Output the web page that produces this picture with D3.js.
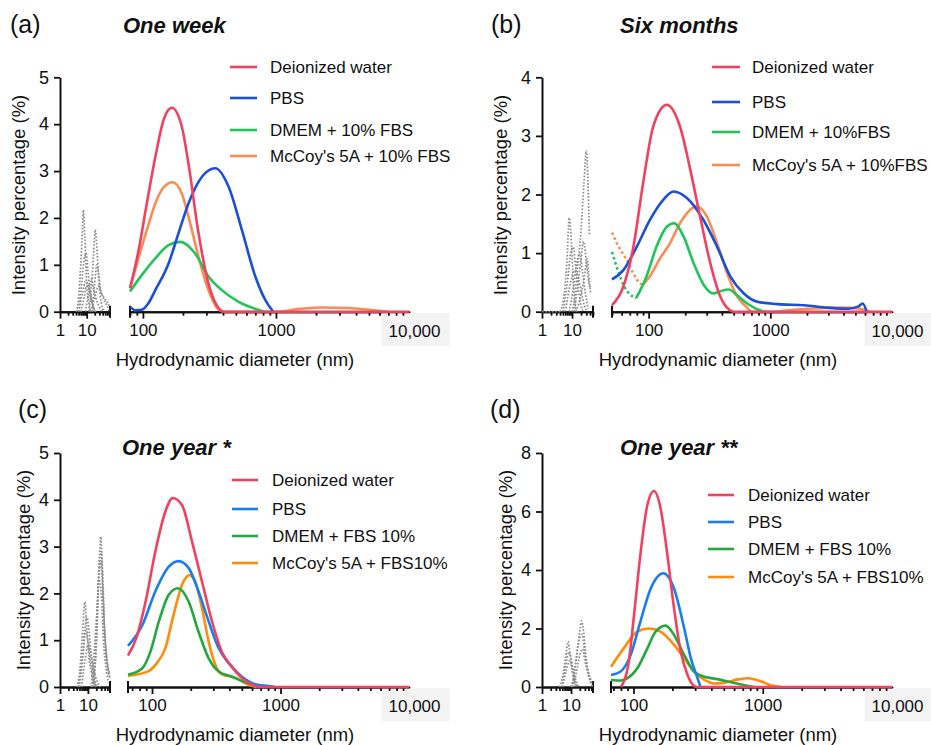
<!DOCTYPE html>
<html>
<head>
<meta charset="utf-8">
<script src="https://cdn.jsdelivr.net/npm/d3@7"></script>
<style>
  html, body { margin: 0; padding: 0; background: #fff; }
  svg { display: block; font-family: "Liberation Sans", Arial, Helvetica, sans-serif; }
</style>
</head>
<body>
<div id="chart"></div>
<script>
// ---- data: [diameter (nm), intensity (%)] ----
const panelLetters = ["(a)", "(b)", "(c)", "(d)"];
const panelTitles = ["One week", "Six months", "One year *", "One year **"];
const legendLabels = [
  ["Deionized water", "PBS", "DMEM + 10% FBS", "McCoy's 5A + 10% FBS"],
  ["Deionized water", "PBS", "DMEM + 10%FBS", "McCoy's 5A + 10%FBS"],
  ["Deionized water", "PBS", "DMEM + FBS 10%", "McCoy's 5A + FBS10%"],
  ["Deionized water", "PBS", "DMEM + FBS 10%", "McCoy's 5A + FBS10%"]
];
const yMaxes = [5, 4, 5, 8];
const yTickSets = [[0, 1, 2, 3, 4, 5], [0, 1, 2, 3, 4], [0, 1, 2, 3, 4, 5], [0, 2, 4, 6, 8]];
const xMajorTicks = [1, 10, 100, 1000, 10000];
const xMinorTicks = [2, 3, 4, 5, 6, 7, 8, 9, 20, 30, 40, 50, 60, 70, 80, 90,
  200, 300, 400, 500, 600, 700, 800, 900, 2000, 3000, 4000, 5000, 6000, 7000, 8000, 9000];
const xTickNames = { 1: "1", 10: "10", 100: "100", 1000: "1000", 10000: "10,000" };

// (a) one week
const weekWater = [[80, 0.5], [93, 1.32], [107, 2.31], [124, 3.3], [143, 4.09], [165, 4.35], [196, 3.95],
  [220, 3.16], [262, 1.67], [311, 0.6], [370, 0.08], [404, 0], [10000, 0]];
const weekPBS = [[80, 0.11], [88, 0.03], [98, 0.04], [110, 0.18], [124, 0.46], [156, 1.03], [185, 1.67],
  [220, 2.31], [278, 2.88], [350, 3.06], [440, 2.67], [555, 1.74], [700, 0.75], [831, 0.25], [954, 0]];
const weekDMEM = [[80, 0.43], [98, 0.78], [124, 1.14], [156, 1.42], [191, 1.49], [247, 1.24], [311, 0.75],
  [392, 0.46], [524, 0.21], [700, 0.06], [820, 0]];
const weekMcCoy = [[80, 0.5], [107, 1.74], [124, 2.31], [143, 2.65], [167, 2.76], [196, 2.52], [220, 2.03],
  [262, 1.17], [311, 0.46], [370, 0.05], [420, 0], [1000, 0], [1500, 0.06], [2200, 0.09], [3500, 0.08],
  [5500, 0.03], [7000, 0]];
const weekGrey = [
  [[4, 0], [5, 0.3], [6, 1.0], [7, 1.8], [7.5, 2.17], [8.5, 1.6], [10, 0.6], [12, 0.2], [14, 0]],
  [[5, 0], [7, 0.4], [9, 0.65], [11, 0.6], [14, 0.3], [18, 0.1], [22, 0]],
  [[12, 0], [15, 0.5], [18, 1.2], [21, 1.75], [25, 1.2], [30, 0.5], [35, 0.2], [45, 0]],
  [[14, 0], [20, 0.3], [28, 0.55], [35, 0.4], [45, 0.25], [60, 0.1], [70, 0]],
  [[6, 0], [8, 0.3], [10, 0.55], [12, 0.5], [16, 0.2], [20, 0]],
  [[5, 0], [6.5, 0.6], [8, 1.1], [9.5, 1.25], [11, 0.9], [13, 0.5], [16, 0.2], [20, 0]],
  [[16, 0], [20, 0.6], [24, 1.0], [28, 0.8], [34, 0.45], [45, 0.3], [60, 0.2], [75, 0.1]],
  [[9, 0], [12, 0.4], [15, 0.7], [18, 0.5], [22, 0.3], [30, 0.1], [38, 0]]
];

// (b) six months
const sixWater = [[50, 0.11], [62, 0.43], [75, 1.11], [90, 2.19], [109, 3.16], [141, 3.53], [181, 3.16],
  [220, 2.42], [265, 1.62], [321, 0.83], [388, 0.26], [455, 0.04], [500, 0], [10000, 0]];
const sixPBS = [[50, 0.55], [62, 0.71], [80, 1.11], [102, 1.56], [132, 1.91], [160, 2.05], [206, 1.94],
  [283, 1.56], [365, 1.11], [470, 0.6], [606, 0.31], [781, 0.17], [1140, 0.13], [1900, 0.11],
  [2960, 0.07], [4340, 0.05], [5300, 0.09], [5740, 0.14], [6200, 0]];
const sixDMEMDotted = [[50, 1.02], [56, 0.7], [63, 0.43], [70, 0.3], [79, 0.23]];
const sixDMEM = [[79, 0.23], [96, 0.6], [116, 1.11], [141, 1.45], [162, 1.51], [194, 1.28], [234, 0.83],
  [283, 0.46], [342, 0.31], [388, 0.35], [455, 0.38], [533, 0.28], [645, 0.14], [830, 0.02], [900, 0]];
const sixMcCoyDotted = [[50, 1.35], [57, 1.1], [65, 0.91], [75, 0.65], [85, 0.48], [90, 0.46]];
const sixMcCoy = [[90, 0.46], [102, 0.6], [124, 0.91], [150, 1.17], [181, 1.51], [220, 1.74], [246, 1.8],
  [302, 1.62], [365, 1.17], [441, 0.66], [533, 0.26], [645, 0.07], [700, 0], [1000, 0], [1500, 0.03],
  [2500, 0.06], [4000, 0.07], [5500, 0.05], [6500, 0]];
const sixGrey = [
  [[4, 0], [5.5, 0.3], [7, 1.0], [8, 1.6], [9.5, 1.2], [11, 0.5], [13, 0.1], [15, 0]],
  [[10, 0], [12, 0.2], [15, 0.7], [20, 1.4], [25, 2.2], [30, 2.75], [34, 2.2], [38, 1.3]],
  [[8, 0], [11, 0.4], [14, 0.8], [18, 1.0], [22, 0.7], [28, 0.3], [35, 0.05]],
  [[6, 0], [9, 0.5], [12, 0.7], [16, 0.6], [20, 0.35], [26, 0.1], [32, 0]],
  [[14, 0], [20, 0.3], [26, 0.6], [32, 0.9], [38, 0.5], [42, 0.3]],
  [[5, 0], [7, 0.5], [9, 1.0], [11, 1.1], [13, 0.8], [16, 0.4], [20, 0.1], [24, 0]],
  [[12, 0], [16, 0.5], [20, 0.9], [24, 1.2], [28, 1.0], [34, 0.6], [40, 0.4]],
  [[1, 0], [4, 0]]
];

// (c) one year *
const yearWater = [[65, 0.67], [76, 1.07], [89, 1.82], [106, 2.89], [127, 3.75], [145, 4.04], [171, 3.89],
  [205, 3.1], [245, 2.25], [293, 1.4], [350, 0.75], [419, 0.43], [501, 0.19], [599, 0.05], [700, 0], [10000, 0]];
const yearPBS = [[65, 0.88], [84, 1.32], [106, 2.04], [135, 2.57], [161, 2.69], [193, 2.54], [230, 2.04],
  [276, 1.4], [330, 0.83], [395, 0.51], [501, 0.22], [636, 0.06], [806, 0.02], [900, 0]];
const yearDMEM = [[65, 0.26], [84, 0.4], [97, 0.75], [113, 1.4], [135, 1.97], [159, 2.11], [193, 1.82],
  [230, 1.18], [276, 0.61], [330, 0.33], [419, 0.22], [532, 0.1], [700, 0]];
const yearMcCoy = [[65, 0.24], [94, 0.34], [109, 0.51], [127, 0.83], [147, 1.54], [171, 2.18], [195, 2.39],
  [217, 2.25], [245, 1.68], [276, 0.97], [311, 0.47], [350, 0.27], [443, 0.2], [563, 0.05], [650, 0]];
const yearGrey = [
  [[4, 0], [5, 0.3], [6.5, 1.2], [7.8, 1.82], [9, 1.3], [11, 0.6], [13, 0.35], [16, 0.1], [20, 0]],
  [[4.5, 0], [6, 0.5], [8, 1.2], [10, 1.0], [12, 0.6], [15, 0.3], [20, 0]],
  [[14, 0], [18, 0.6], [22, 1.8], [26, 2.8], [29, 3.21], [33, 2.6], [40, 1.2], [50, 0.5], [60, 0.2]],
  [[15, 0], [20, 0.9], [24, 2.2], [28, 2.7], [32, 2.4], [38, 1.4], [48, 0.6], [60, 0.3]],
  [[6, 0], [8, 0.6], [10, 0.9], [13, 0.7], [16, 0.4], [22, 0.1], [28, 0]],
  [[5, 0], [7, 0.8], [9, 1.5], [11, 1.2], [13, 0.7], [16, 0.3], [20, 0]],
  [[13, 0], [17, 0.8], [21, 1.6], [25, 2.3], [30, 2.0], [36, 1.0], [45, 0.4], [55, 0.1]],
  [[16, 0], [21, 1.2], [25, 2.5], [30, 2.9], [35, 2.0], [42, 0.9], [55, 0.3], [62, 0.2]]
];

// (d) one year **
const year2Water = [[80, 0], [92, 0.87], [101, 2.46], [113, 4.51], [128, 6.22], [144, 6.7], [162, 6.11],
  [183, 4.51], [206, 2.69], [232, 1.21], [262, 0.41], [295, 0.03], [310, 0], [10000, 0]];
const year2PBS = [[67, 0.41], [79, 0.52], [95, 1.09], [113, 2.23], [136, 3.37], [170, 3.89], [206, 3.37],
  [247, 2.0], [278, 0.98], [313, 0.3], [330, 0]];
const year2DMEM = [[67, 0.24], [80, 0.22], [90, 0.3], [107, 0.64], [128, 1.32], [148, 1.89], [177, 2.1],
  [206, 1.78], [247, 1.09], [295, 0.52], [354, 0.35], [448, 0.27], [569, 0.16], [724, 0.06], [850, 0]];
const year2McCoy = [[67, 0.69], [84, 1.32], [107, 1.89], [132, 2.0], [162, 1.89], [206, 1.44], [247, 0.98],
  [295, 0.52], [354, 0.24], [422, 0.12], [506, 0.15], [646, 0.26], [768, 0.3], [975, 0.19], [1166, 0.05], [1400, 0]];
const year2Grey = [
  [[4, 0], [5, 0.3], [6.5, 1.0], [7.9, 1.55], [9, 1.2], [11, 0.5], [13, 0.2], [15, 0]],
  [[10, 0], [13, 0.5], [16, 1.2], [20, 1.9], [23, 2.26], [27, 1.9], [33, 1.0], [40, 0.5], [50, 0.2], [55, 0]],
  [[5, 0], [7, 0.6], [9, 0.9], [11, 0.7], [14, 0.3], [18, 0]],
  [[12, 0], [16, 0.6], [20, 1.1], [25, 1.3], [30, 0.9], [40, 0.4], [50, 0.1]],
  [[5, 0], [6.5, 0.7], [8.5, 1.2], [10, 1.0], [12, 0.5], [15, 0.1], [17, 0]],
  [[11, 0], [15, 0.9], [19, 1.6], [24, 1.8], [29, 1.3], [36, 0.6], [46, 0.2], [55, 0]]
];

// ---- series per panel (legend order) ----
const panelSeries = [
  { water: weekWater, pbs: weekPBS, dmem: weekDMEM, mccoy: weekMcCoy, grey: weekGrey },
  { water: sixWater, pbs: sixPBS, dmem: sixDMEM, mccoy: sixMcCoy, grey: sixGrey,
    dmemDot: sixDMEMDotted, mccoyDot: sixMcCoyDotted },
  { water: yearWater, pbs: yearPBS, dmem: yearDMEM, mccoy: yearMcCoy, grey: yearGrey },
  { water: year2Water, pbs: year2PBS, dmem: year2DMEM, mccoy: year2McCoy, grey: year2Grey }
];

// ---- layout / style ----
const INK = "#111";
const GREY = "#8c8c8c";
const colorsA = { water: "#f2405f", pbs: "#1a4fd6", dmem: "#22c45a", mccoy: "#fa8c55" };
const colorsC = { water: "#f2405f", pbs: "#1a7cf2", dmem: "#22a83c", mccoy: "#ff8c0a" };

const layout = [
  { axisX: 60, y0: 311.7, yTop: 77.3, leftMax: 75, leftEnd: 110, rightMin: 80, rightStart: 130, rightEnd: 409,
    letter: [10, 33], title: [123, 33], legend: { x1: 230, x2: 257, tx: 270, rows: [67, 98, 130, 156] },
    yTitle: [25, 195], xTitle: [235, 366], colors: colorsA },
  { axisX: 542, y0: 311.7, yTop: 77.3, leftMax: 50, leftEnd: 593, rightMin: 50, rightStart: 612, rightEnd: 892,
    letter: [491, 33], title: [620, 33], legend: { x1: 712, x2: 740, tx: 752, rows: [67, 102, 132, 165] },
    yTitle: [507, 195], xTitle: [718, 366], colors: colorsA },
  { axisX: 60, y0: 687, yTop: 453, leftMax: 62, leftEnd: 110, rightMin: 65, rightStart: 128, rightEnd: 409,
    letter: [18, 418], title: [122, 455], legend: { x1: 232, x2: 258, tx: 272, rows: [480, 509, 536, 563] },
    yTitle: [30, 570], xTitle: [235, 741], colors: colorsC },
  { axisX: 542, y0: 687, yTop: 453, leftMax: 57, leftEnd: 593, rightMin: 67, rightStart: 611, rightEnd: 892,
    letter: [490, 418], title: [620, 455], legend: { x1: 708, x2: 734, tx: 748, rows: [495, 522, 549, 577] },
    yTitle: [512, 570], xTitle: [718, 741], colors: colorsC }
];

const svg = d3.select("#chart").append("svg")
  .attr("width", 931)
  .attr("height", 745)
  .style("background", "#fff");

layout.forEach((p, i) => drawPanel(p, i));

function drawPanel(p, i) {
  const g = svg.append("g");
  const data = panelSeries[i];

  const xL = d3.scaleLog().domain([1, p.leftMax]).range([p.axisX, p.leftEnd]);
  const xR = d3.scaleLog().domain([p.rightMin, 10000]).range([p.rightStart, p.rightEnd]);
  const y = d3.scaleLinear().domain([0, yMaxes[i]]).range([p.y0, p.yTop]);

  // y axis
  const yAx = g.append("g")
    .attr("transform", `translate(${p.axisX},0)`)
    .call(d3.axisLeft(y).tickValues(yTickSets[i]).tickFormat(d3.format("d"))
      .tickSize(6).tickPadding(5).tickSizeOuter(0));

  // x axis: two log segments, majors + minors
  const inL = v => v >= 1 && v <= p.leftMax;
  const inR = v => v >= p.rightMin && v <= 10000;
  const fmt = v => xTickNames[v];

  const xLMaj = g.append("g").attr("transform", `translate(0,${p.y0})`)
    .call(d3.axisBottom(xL).tickValues(xMajorTicks.filter(inL)).tickFormat(fmt).tickSize(7).tickPadding(5).tickSizeOuter(0));
  const xLMin = g.append("g").attr("transform", `translate(0,${p.y0})`)
    .call(d3.axisBottom(xL).tickValues(xMinorTicks.filter(inL)).tickFormat("").tickSize(4).tickSizeOuter(0));
  const xRMaj = g.append("g").attr("transform", `translate(0,${p.y0})`)
    .call(d3.axisBottom(xR).tickValues(xMajorTicks.filter(inR)).tickFormat(fmt).tickSize(7).tickPadding(5).tickSizeOuter(0));
  const xRMin = g.append("g").attr("transform", `translate(0,${p.y0})`)
    .call(d3.axisBottom(xR).tickValues(xMinorTicks.filter(inR)).tickFormat("").tickSize(4).tickSizeOuter(0));

  // segment end caps
  [xL.range()[1], xR.range()[0]].forEach(xc => {
    g.append("line")
      .attr("x1", xc).attr("x2", xc)
      .attr("y1", p.y0 - 6).attr("y2", p.y0 + 6)
      .attr("stroke", INK).attr("stroke-width", 2);
  });

  [yAx, xLMaj, xLMin, xRMaj, xRMin].forEach(a => {
    a.select(".domain").attr("stroke", INK).attr("stroke-width", 2);
    a.selectAll(".tick line").attr("stroke", INK).attr("stroke-width", 1.8);
    a.selectAll(".tick text")
      .attr("fill", INK)
      .style("font-size", "17px")
      .style("font-family", "'Liberation Sans', Arial, sans-serif");
  });
  yAx.selectAll(".tick text").style("font-size", "18px");

  // "10,000" label sits on a light grey patch
  xRMaj.selectAll(".tick").filter(d => d === 10000).each(function () {
    const tick = d3.select(this);
    const txt = tick.select("text").attr("x", 5).attr("dy", "0.78em");
    const bb = txt.node().getBBox();
    tick.insert("rect", "text")
      .attr("x", bb.x - 7).attr("y", bb.y - 9)
      .attr("width", bb.width + 16).attr("height", bb.height + 14)
      .attr("fill", "#f3f3f3");
  });

  // grey dotted small-particle traces (left segment)
  const lineL = d3.line().x(d => xL(d[0])).y(d => y(d[1])).curve(d3.curveMonotoneX);
  const lineR = d3.line().x(d => xR(d[0])).y(d => y(d[1])).curve(d3.curveMonotoneX);

  data.grey.forEach(s => {
    g.append("path")
      .attr("d", lineL(s))
      .attr("fill", "none")
      .attr("stroke", GREY)
      .attr("stroke-width", 1.7)
      .attr("stroke-dasharray", "1.6,1.7");
  });

  // main curves, water drawn last (on top)
  const order = ["mccoy", "dmem", "pbs", "water"];
  order.forEach(k => {
    if (data[k + "Dot"]) {
      g.append("path")
        .attr("d", lineR(data[k + "Dot"]))
        .attr("fill", "none")
        .attr("stroke", p.colors[k])
        .attr("stroke-width", 2.6)
        .attr("stroke-dasharray", "2.5,2.8");
    }
    g.append("path")
      .attr("d", lineR(data[k]))
      .attr("fill", "none")
      .attr("stroke", p.colors[k])
      .attr("stroke-width", 2.6)
      .attr("stroke-linejoin", "round");
  });

  // legend
  const keys = ["water", "pbs", "dmem", "mccoy"];
  keys.forEach((k, j) => {
    const ry = p.legend.rows[j];
    g.append("line")
      .attr("x1", p.legend.x1).attr("x2", p.legend.x2)
      .attr("y1", ry).attr("y2", ry)
      .attr("stroke", p.colors[k]).attr("stroke-width", 2.6);
    g.append("text")
      .attr("x", p.legend.tx).attr("y", ry + 6)
      .attr("fill", INK)
      .style("font-size", "17px")
      .text(legendLabels[i][j]);
  });

  // titles
  g.append("text")
    .attr("x", p.letter[0]).attr("y", p.letter[1])
    .attr("fill", INK)
    .style("font-size", "25px")
    .text(panelLetters[i]);
  g.append("text")
    .attr("x", p.title[0]).attr("y", p.title[1])
    .attr("fill", INK)
    .style("font-size", "22px")
    .style("font-weight", "bold")
    .style("font-style", "italic")
    .text(panelTitles[i]);

  g.append("text")
    .attr("transform", `translate(${p.yTitle[0]},${p.yTitle[1]}) rotate(-90)`)
    .attr("text-anchor", "middle")
    .attr("fill", INK)
    .style("font-size", "18.5px")
    .text("Intensity percentage (%)");
  g.append("text")
    .attr("x", p.xTitle[0]).attr("y", p.xTitle[1])
    .attr("text-anchor", "middle")
    .attr("fill", INK)
    .style("font-size", "18.5px")
    .text("Hydrodynamic diameter (nm)");
}
</script>
</body>
</html>
